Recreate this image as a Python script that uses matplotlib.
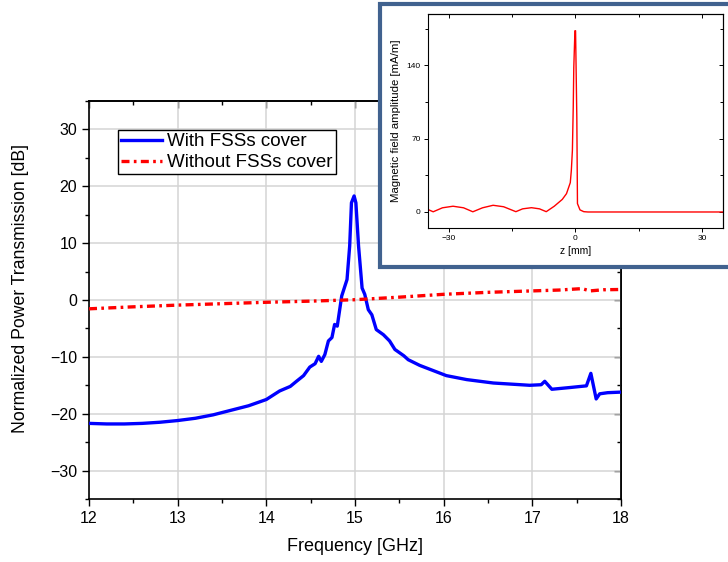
import matplotlib
matplotlib.use("Agg")
import matplotlib.pyplot as plt
from matplotlib.patches import Rectangle
from matplotlib.ticker import MultipleLocator, NullFormatter

plt.rcParams["font.family"] = ["Liberation Sans", "DejaVu Sans"]

# main chart: transmission vs frequency
freq_with = [12.0, 12.2, 12.4, 12.6, 12.8, 13.0, 13.2, 13.4, 13.6, 13.8, 14.0,
             14.15, 14.27, 14.34, 14.42, 14.49, 14.55, 14.59, 14.62, 14.66, 14.70,
             14.74, 14.77, 14.80, 14.85, 14.91, 14.94, 14.96, 14.99, 15.01, 15.04,
             15.08, 15.11, 15.15, 15.19, 15.24, 15.32, 15.39, 15.45, 15.55, 15.60,
             15.73, 15.88, 16.03, 16.26, 16.56, 16.97, 17.10, 17.14, 17.22, 17.42,
             17.61, 17.66, 17.72, 17.76, 17.85, 18.0]
db_with = [-21.7, -21.8, -21.8, -21.7, -21.5, -21.2, -20.8, -20.2, -19.4, -18.6, -17.5,
           -16.0, -15.2, -14.3, -13.3, -11.8, -11.2, -9.9, -10.8, -9.6, -7.2,
           -6.6, -4.3, -4.6, 0.7, 3.6, 9.5, 17.1, 18.3, 17.1, 9.5,
           2.1, 1.0, -1.7, -2.6, -5.2, -6.1, -7.2, -8.7, -9.8, -10.5,
           -11.5, -12.4, -13.3, -14.0, -14.6, -15.0, -14.9, -14.3, -15.7, -15.4,
           -15.1, -12.9, -17.4, -16.5, -16.3, -16.2]

freq_without = [12.0, 12.5, 13.0, 13.5, 14.0, 14.5, 15.0, 15.5, 16.0, 16.5, 17.0,
                17.3, 17.56, 17.65, 17.8, 18.0]
db_without = [-1.55, -1.2, -0.9, -0.65, -0.4, -0.2, 0.05, 0.5, 1.0, 1.35, 1.6,
              1.75, 2.0, 1.6, 1.8, 1.85]

# inset: magnetic field amplitude along z
z_mm = [-35, -33.7, -31.5, -29.0, -26.5, -24.3, -22, -19.5, -17, -14.1, -12.5,
        -10.4, -8.5, -6.9, -5, -3.1, -2.1, -1.2, -0.95, -0.7, -0.5, -0.37, -0.1,
        0.05, 0.35, 0.5, 1.1, 2.0, 3.0, 35]
h_field = [2.5, 0.2, 4.0, 5.5, 4.0, 0.2, 4.0, 6.4, 5.0, 0.3, 3.0,
           4.1, 3.0, 0.3, 5.5, 12.0, 17.5, 28, 39.8, 58.8, 100, 138, 173,
           173, 90, 8, 2.0, 0.3, 0, 0]


def mirror_ticks(a, xmaj, xmin, ymaj, ymin, lmaj, lmin, width):
    # bottom/left ticks point out, top/right ticks point in
    top = a.secondary_xaxis("top")
    top.xaxis.set_major_locator(MultipleLocator(xmaj))
    top.xaxis.set_minor_locator(MultipleLocator(xmin))
    top.xaxis.set_major_formatter(NullFormatter())
    top.tick_params(which="both", direction="in", width=width)
    top.tick_params(which="major", length=lmaj)
    top.tick_params(which="minor", length=lmin)
    right = a.secondary_yaxis("right")
    right.yaxis.set_major_locator(MultipleLocator(ymaj))
    right.yaxis.set_minor_locator(MultipleLocator(ymin))
    right.yaxis.set_major_formatter(NullFormatter())
    right.tick_params(which="both", direction="in", width=width)
    right.tick_params(which="major", length=lmaj)
    right.tick_params(which="minor", length=lmin)
    return top, right


W, H = 728, 562
fig = plt.figure(figsize=(W / 100, H / 100), dpi=100)

ax = fig.add_axes([89 / W, 1 - 499 / H, (621 - 89) / W, (499 - 101) / H])
ax.plot(freq_with, db_with, color="#0000ff", lw=2.4, label="With FSSs cover", zorder=3)
ax.plot(freq_without, db_without, color="#ff0000", lw=2.4, dashes=(2.4, 1.3, 0.8, 1.3),
        label="Without FSSs cover", zorder=3)
ax.set_xlim(12, 18)
ax.set_ylim(-35, 35)
ax.xaxis.set_major_locator(MultipleLocator(1))
ax.xaxis.set_minor_locator(MultipleLocator(0.5))
ax.yaxis.set_major_locator(MultipleLocator(10))
ax.yaxis.set_minor_locator(MultipleLocator(5))
ax.grid(True, which="major", color="#d4d4d4", lw=1.1)
ax.set_axisbelow(True)
ax.tick_params(which="both", direction="out", labelsize=11.5, width=1)
ax.tick_params(which="major", length=5)
ax.tick_params(which="minor", length=3)
for spine in ax.spines.values():
    spine.set_linewidth(1.2)
t, r = mirror_ticks(ax, 1, 0.5, 10, 5, 5, 3, 1)
t.spines["top"].set_linewidth(1.2)
r.spines["right"].set_linewidth(1.2)
ax.set_xlabel("Frequency [GHz]", fontsize=13, labelpad=9)
ax.set_ylabel("Normalized Power Transmission [dB]", fontsize=12.7, labelpad=6)
ax.yaxis.set_label_coords(-0.112, 0.53)

leg = ax.legend(loc="upper left", bbox_to_anchor=(0.054, 0.926), fontsize=13.5,
                frameon=True, fancybox=False, framealpha=1, edgecolor="black",
                handlelength=2.2, handletextpad=0.3, borderpad=0.15,
                labelspacing=0.2, borderaxespad=0)
leg.get_frame().set_linewidth(1)

# inset frame
frame = Rectangle((379.5 / W, 1 - 267 / H), (760 - 379.5) / W, (267 - 4.5) / H,
                  transform=fig.transFigure, facecolor="white", edgecolor="#41628f",
                  lw=3, zorder=5, clip_on=False)
fig.add_artist(frame)

ins = fig.add_axes([427.7 / W, 1 - 227.7 / H, (723 - 427.7) / W, (227.7 - 14) / H], zorder=6)
ins.plot(z_mm, h_field, color="#ff0000", lw=1)
ins.set_xlim(-35, 35)
ins.set_ylim(-15, 189)
ins.set_xticks([-30, 0, 30])
ins.xaxis.set_minor_locator(MultipleLocator(15))
ins.set_yticks([0, 70, 140])
ins.yaxis.set_minor_locator(MultipleLocator(35))
ins.tick_params(which="both", direction="out", labelsize=6, width=0.7, pad=2)
ins.tick_params(which="major", length=3)
ins.tick_params(which="minor", length=2)
for spine in ins.spines.values():
    spine.set_linewidth(0.8)
mirror_ticks(ins, 30, 15, 70, 35, 3, 2, 0.7)
ins.set_xlabel("z [mm]", fontsize=7.5, labelpad=3)
ins.set_ylabel("Magnetic field amplitude [mA/m]", fontsize=8.2, labelpad=4)

fig.savefig("out.png", dpi=100)
